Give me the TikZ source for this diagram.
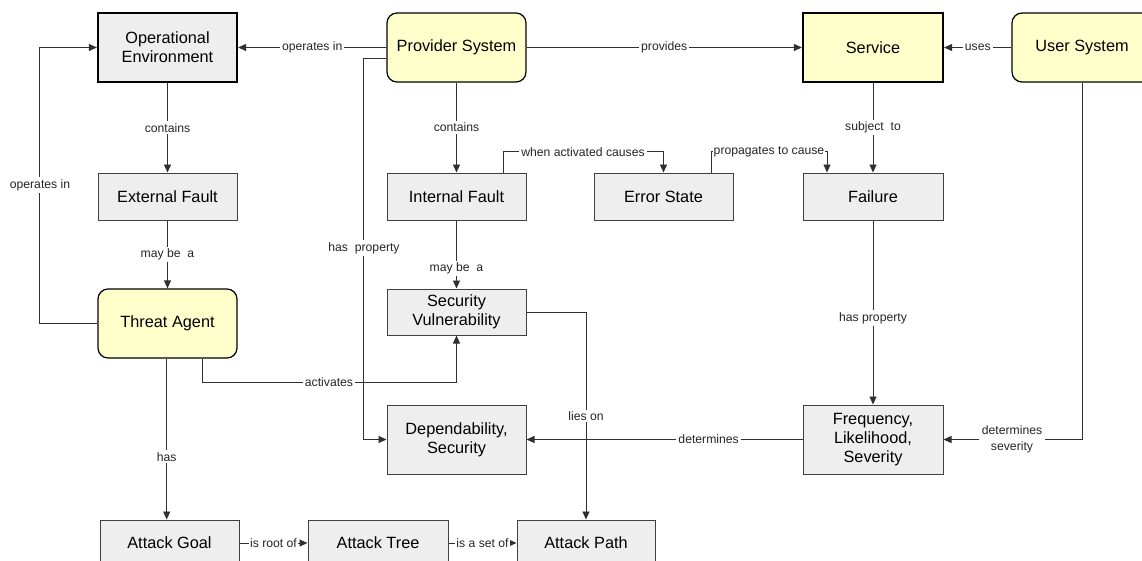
\documentclass[tikz,border=0pt]{standalone}
\usepackage{fontspec}
\setmainfont{Liberation Sans}
\usetikzlibrary{arrows.meta}
\definecolor{boxgray}{HTML}{EEEEEE}
\definecolor{yel}{HTML}{FFFFCC}
\definecolor{linegray}{HTML}{303030}
\definecolor{boxline}{HTML}{404040}
\newcommand\nfnt{\fontsize{16.3}{19}\selectfont}
\newcommand\lfnt{\fontsize{12.2}{16}\selectfont}
\tikzset{
  box/.style={draw=boxline, fill=boxgray, line width=1pt, minimum width=139pt, minimum height=47pt, font=\nfnt, align=center, inner sep=0pt},
  tallbox/.style={box, minimum height=69pt},
  thickbox/.style={box, minimum height=69pt, draw=black, line width=2.2pt},
  rbox/.style={box, minimum height=69pt, rounded corners=10pt, fill=yel, draw=black, line width=1.2pt},
  conn/.style={draw=linegray, line width=0.9pt, -{Triangle[length=8pt,width=7pt]}},
  lbl/.style={fill=white, inner sep=2pt, font=\lfnt, align=center, text=black!85}
}
\begin{document}
\begin{tikzpicture}[x=1pt,y=-1pt]
\useasboundingbox (0,0) rectangle (1142,560);
\fill[white] (0,0) rectangle (1142,560);
% nodes
\node[thickbox] (OE) at (167.5,47.5) {Operational\\Environment};
\node[rbox] (PS) at (456.5,47.5) {Provider System};
\node[thickbox, fill=yel, minimum width=140pt] (SV) at (873,47.5) {Service};
\node[rbox, minimum width=140pt] (US) at (1082,47.5) {User System};
\node[box] (EF) at (167.5,196.5) {External Fault};
\node[box] (IF) at (456.5,196.5) {Internal Fault};
\node[box] (ES) at (663.5,196.5) {Error State};
\node[box, minimum width=140pt] (FA) at (873,196.5) {Failure};
\node[rbox] (TA) at (167.5,323.5) {Threat Agent};
\node[box, minimum height=46pt] (SecV) at (456.5,312) {Security\\Vulnerability};
\node[tallbox] (DS) at (456.5,439.5) {Dependability,\\Security};
\node[tallbox, minimum width=140pt] (FLS) at (873,439.5) {Frequency,\\Likelihood,\\Severity};
\node[box, minimum height=46pt] (AG) at (169.5,543) {Attack Goal};
\node[box, minimum height=46pt, minimum width=140pt] (AT) at (378,543) {Attack Tree};
\node[box, minimum height=46pt, minimum width=138pt] (AP) at (586,543) {Attack Path};
% connectors
\draw[conn] (PS.west) -- node[lbl] (l1) {operates in} (OE.east);
\draw[conn] (PS.east) -- node[lbl] (l2) {provides} (SV.west);
\draw[conn] (US.west) -- node[lbl] (l3) {uses} (SV.east);
\draw[conn] (OE.south) -- node[lbl] (l4) {contains} (EF.north);
\draw[conn] (PS.south) -- node[lbl] (l5) {contains} (IF.north);
\draw[conn] (SV.south) -- node[lbl] (l6) {subject\ \ to} (FA.north);
\draw[conn] (EF.south) -- node[lbl] (l7) {may be\ \ a} (TA.north);
\draw[conn] (IF.south) -- node[lbl, pos=0.71] (l8) {may be\ \ a} (SecV.north);
\draw[conn] (FA.south) -- node[lbl, pos=0.53] (l9) {has property} (FLS.north);
\draw[conn] ([xshift=-0.8pt]TA.south) -- node[lbl, pos=0.61] (l10) {has} ([xshift=-0.8pt]TA.south |- AG.north);
\draw[conn] (TA.west) -- ++(-58,0) |- (OE.west);
\node[lbl] (l11) at (40,185) {operates in};
\draw[conn] ([xshift=34.5pt]TA.south) -- ++(0,24) -| (SecV.south);
\node[lbl] (l12) at (329,382) {activates};
\draw[conn] ([yshift=-10.5pt]PS.west) -- ++(-23,0) |- (DS.west);
\node[lbl] (l13) at (364,248) {has\ \ property};
\draw[conn] (SecV.east) -| (AP.north);
\node[lbl] (l14) at (586,416) {lies on};
\draw[conn] (FLS.west) -- node[lbl, pos=0.34] (l15) {determines} (DS.east);
\draw[conn] (US.south) |- (FLS.east);
\node[lbl, inner sep=3pt] (l16) at (1012,439.5) {determines\\severity};
\draw[conn] ([xshift=46.5pt]IF.north) -- ++(0,-21) -| (ES.north);
\node[lbl] (l17) at (583,152) {when activated causes};
\draw[conn] ([xshift=47.5pt]ES.north) -- ++(0,-21) -| ([xshift=-46pt]FA.north);
\node[lbl, inner sep=1pt] (l18) at (769,152) {propagates to cause};
\draw[conn] (AG.east) -- node[lbl, inner sep=1.5pt] (l19) {is root of} (AT.west);
\draw[conn] (AT.east) -- node[lbl, inner sep=1.5pt] (l20) {is a set of} (AP.west);
\end{tikzpicture}
\end{document}
